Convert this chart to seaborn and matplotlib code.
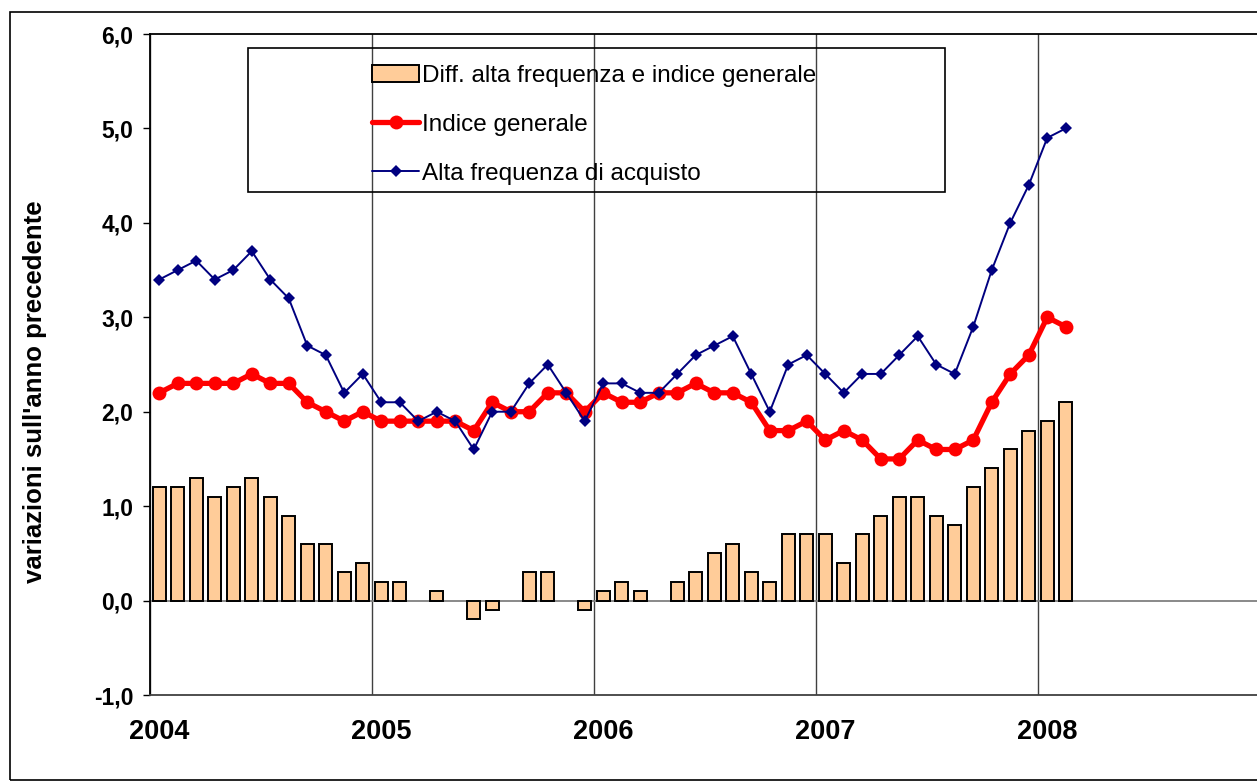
import numpy as np
import pandas as pd
import matplotlib
matplotlib.use("Agg")
import matplotlib.pyplot as plt
import seaborn as sns
from matplotlib.patches import Rectangle, Patch
from matplotlib.lines import Line2D

# ---- data (monthly, Jan 2004 - Feb 2008) ----
months = pd.date_range("2004-01-01", periods=50, freq="MS")
alta_frequenza = [3.4, 3.5, 3.6, 3.4, 3.5, 3.7, 3.4, 3.2, 2.7, 2.6, 2.2, 2.4,
                  2.1, 2.1, 1.9, 2.0, 1.9, 1.6, 2.0, 2.0, 2.3, 2.5, 2.2, 1.9,
                  2.3, 2.3, 2.2, 2.2, 2.4, 2.6, 2.7, 2.8, 2.4, 2.0, 2.5, 2.6,
                  2.4, 2.2, 2.4, 2.4, 2.6, 2.8, 2.5, 2.4, 2.9, 3.5, 4.0, 4.4,
                  4.9, 5.0]
indice_generale = [2.2, 2.3, 2.3, 2.3, 2.3, 2.4, 2.3, 2.3, 2.1, 2.0, 1.9, 2.0,
                   1.9, 1.9, 1.9, 1.9, 1.9, 1.8, 2.1, 2.0, 2.0, 2.2, 2.2, 2.0,
                   2.2, 2.1, 2.1, 2.2, 2.2, 2.3, 2.2, 2.2, 2.1, 1.8, 1.8, 1.9,
                   1.7, 1.8, 1.7, 1.5, 1.5, 1.7, 1.6, 1.6, 1.7, 2.1, 2.4, 2.6,
                   3.0, 2.9]
differenza = [1.2, 1.2, 1.3, 1.1, 1.2, 1.3, 1.1, 0.9, 0.6, 0.6, 0.3, 0.4,
              0.2, 0.2, 0.0, 0.1, 0.0, -0.2, -0.1, 0.0, 0.3, 0.3, 0.0, -0.1,
              0.1, 0.2, 0.1, 0.0, 0.2, 0.3, 0.5, 0.6, 0.3, 0.2, 0.7, 0.7,
              0.7, 0.4, 0.7, 0.9, 1.1, 1.1, 0.9, 0.8, 1.2, 1.4, 1.6, 1.8,
              1.9, 2.1]
year_labels = ["2004", "2005", "2006", "2007", "2008"]
y_ticks = [-1, 0, 1, 2, 3, 4, 5, 6]
y_tick_labels = ["-1,0", "0,0", "1,0", "2,0", "3,0", "4,0", "5,0", "6,0"]
legend_labels = ["Diff. alta frequenza e indice generale",
                 "Indice generale",
                 "Alta frequenza di acquisto"]
ylabel = "variazioni sull'anno precedente"

# ---- styling ----
sns.set_theme(style="white")
plt.rcParams['font.family'] = ['Liberation Sans', 'DejaVu Sans']
plt.rcParams['text.color'] = 'black'
plt.rcParams['xtick.color'] = 'black'
plt.rcParams['ytick.color'] = 'black'
plt.rcParams['axes.labelcolor'] = 'black'

W, H = 1257, 782
fig = plt.figure(figsize=(W / 100, H / 100), dpi=100)
fig.patch.set_facecolor("white")

left_px, right_px, top_px, bot_px = 150, 1260, 34, 695
ax = fig.add_axes([left_px / W, 1 - bot_px / H,
                   (right_px - left_px) / W, (bot_px - top_px) / H])
ax.set_facecolor("white")

# month position: index from Jan 2004, bars centred in the month slot
xpos = [(m.year - 2004) * 12 + (m.month - 1) + 0.5 for m in months]
df = pd.DataFrame({"x": xpos, "alta": alta_frequenza,
                   "indice": indice_generale, "diff": differenza})

sns.barplot(data=df, x="x", y="diff", native_scale=True, width=0.7,
            color="#FFCC99", saturation=1, edgecolor="black", linewidth=1.4,
            errorbar=None, ax=ax, zorder=2)
# zero-valued bars are not drawn in the original
for p in ax.patches:
    if abs(p.get_height()) < 1e-9:
        p.set_visible(False)

sns.lineplot(data=df, x="x", y="indice", color="#FF0000", linewidth=3.8,
             marker="o", markersize=10, markeredgecolor="#FF0000",
             markeredgewidth=0, ax=ax, zorder=3)
sns.lineplot(data=df, x="x", y="alta", color="#000080", linewidth=1.4,
             marker="D", markersize=6.5, markeredgecolor="#000080",
             markeredgewidth=0, ax=ax, zorder=4)

ax.set_xlim(0, 60)
ax.set_ylim(-1, 6)

# zero line
ax.axhline(0, color="#808080", lw=1.3, zorder=1)

# year gridlines (minor ticks at year boundaries)
ax.set_xticks([0, 12, 24, 36, 48, 60], minor=True)
ax.grid(which="minor", axis="x", color="#404040", lw=1.0, zorder=0)
ax.grid(which="major", visible=False)

ax.set_xticks([i * 12 + 0.5 for i in range(len(year_labels))])
ax.set_xticklabels(year_labels, fontsize=19.5, fontweight="bold",
                   color="black")
ax.tick_params(axis="x", which="both", length=0, pad=17)

ax.set_yticks(y_ticks)
ax.set_yticklabels(y_tick_labels, fontsize=16.5, fontweight="bold",
                   color="black")
ax.tick_params(axis="y", which="major", left=True, length=5, width=1,
               color="black", pad=7, direction="out")

ax.set_xlabel("")
ax.set_ylabel("")

for side in ["top", "left"]:
    ax.spines[side].set_color("black")
    ax.spines[side].set_linewidth(1.3)
ax.spines["bottom"].set_color("#404040")
ax.spines["bottom"].set_linewidth(1.3)
ax.spines["right"].set_visible(False)

fig.text(35 / W, 1 - 392 / H, ylabel, rotation=90, fontsize=18.5,
         fontweight="bold", ha="center", va="center", color="black")

# legend
handles = [Patch(facecolor="#FFCC99", edgecolor="black", linewidth=1.4),
           Line2D([], [], color="#FF0000", lw=3.8, marker="o", markersize=10,
                  markeredgewidth=0),
           Line2D([], [], color="#000080", lw=1.4, marker="D", markersize=6,
                  markeredgewidth=0)]
leg = fig.legend(handles, legend_labels, loc="upper left",
                 bbox_to_anchor=(372 / W, 1 - 65 / H), frameon=False,
                 fontsize=17.5, handlelength=1.95, handletextpad=0.1,
                 labelspacing=1.1, borderpad=0, borderaxespad=0)
for t in leg.get_texts():
    t.set_color("black")
fig.patches.append(Rectangle((248 / W, 1 - 192 / H), (945 - 248) / W,
                             (192 - 48) / H, transform=fig.transFigure,
                             fill=False, edgecolor="black", linewidth=1.2,
                             zorder=5))

# outer chart frame
fig.patches.append(Rectangle((10 / W, 1 - 780 / H), 1.2, (780 - 12) / H,
                             transform=fig.transFigure, fill=False,
                             edgecolor="black", linewidth=1.2))

fig.savefig("out.png", dpi=100)
